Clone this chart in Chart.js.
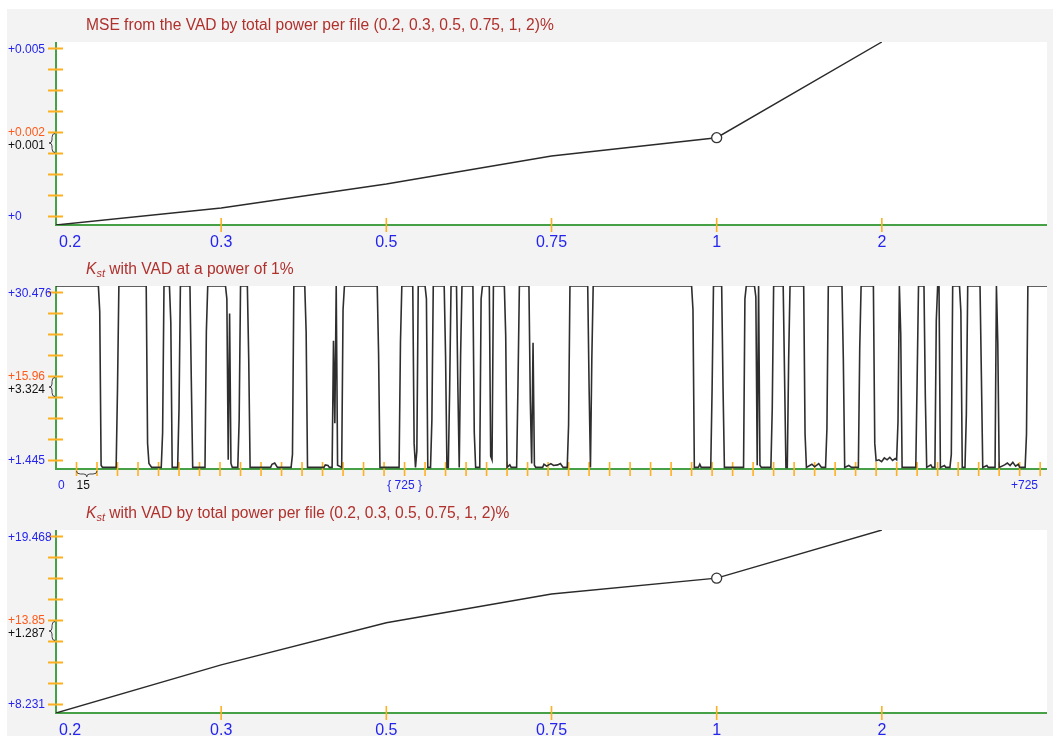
<!DOCTYPE html>
<html>
<head>
<meta charset="utf-8">
<script src="https://cdn.jsdelivr.net/npm/chart.js@4.4.1/dist/chart.umd.min.js"></script>
<style>
  html, body { margin: 0; padding: 0; background: #fff; }
  #bg { position: absolute; left: 7px; top: 9px; width: 1046px; height: 727px; background: #f3f3f3; }
  canvas { position: absolute; left: 0; }
</style>
</head>
<body>
<div id="bg"></div>
<canvas id="mse" width="1053" height="262" style="top:0px"></canvas>
<canvas id="kstRun" width="1053" height="262" style="top:244px"></canvas>
<canvas id="kstPower" width="1053" height="248" style="top:488px"></canvas>
<script>
// power levels per file (%)
const powers = ['0.2', '0.3', '0.5', '0.75', '1', '2'];

// MSE from the VAD for each power level
const mseValues = [0, 0.000464, 0.00112, 0.001885, 0.002385, 0.005];
const mseTickLabels = ['+0.005', '+0.002', '+0.001', '+0'];

// Kst with VAD for each power level
const kstPowerValues = [8.231, 11.19, 13.77, 15.54, 16.51, 19.468];
const kstPowerTickLabels = ['+19.468', '+13.85', '+1.287', '+8.231'];

// Kst with VAD at 1% power, per frame (breakpoints of the trace)
const kstSamples = [
  0, 31, 32, 33, 34, 44, 45, 46, 66, 67, 68, 70,
  77, 78, 79, 83, 84, 85, 89, 90, 91, 98, 99, 100,
  109, 110, 111, 124, 125, 126, 127, 128, 129,
  133, 134, 135, 140, 141, 142, 157, 158, 160, 162,
  172, 173, 174, 182, 183, 184, 196, 197, 199, 200,
  202, 203, 204, 205, 206, 209, 210, 211, 235, 236, 237,
  251, 252, 253, 261, 262, 263, 264, 265,
  270, 271, 272, 274, 275, 276, 284, 285, 286, 287, 288, 289, 293, 294, 295, 296, 297,
  305, 306, 307, 310, 311, 312, 317, 318, 319, 320, 328, 329, 330, 332, 333,
  337, 338, 339, 346, 347, 348, 349, 350, 351,
  356, 357, 359, 362, 364, 367, 369, 371,
  374, 375, 376, 389, 390, 391, 392, 393, 465, 466, 467, 470, 471, 472,
  479, 480, 481, 487, 488, 489,
  503, 504, 505, 511, 512, 513, 514, 515, 516,
  523, 524, 525, 532, 533, 534, 535, 536, 537, 547, 548, 549,
  553, 555, 558, 560, 563, 564, 565, 575, 576, 577, 580, 582,
  587, 588, 589, 598, 599, 600, 602, 604, 606, 608, 610, 612, 614, 615, 616, 617, 618, 619,
  629, 630, 631, 635, 636, 637, 640, 641, 643, 644, 645, 646, 647, 650, 651,
  654, 655, 656, 661, 662, 663, 665, 666, 667, 676, 677, 678, 681, 682,
  687, 688, 689, 690, 694, 696, 698, 700, 702, 704, 705,
  709, 710, 711, 725
];
const kstValues = [
  30.476, 30.476, 26.41, 2.03, 1.7, 1.7, 14.22, 30.476, 30.476, 5.51, 2.32, 1.7,
  1.7, 7.25, 30.476, 30.476, 24.67, 1.7, 1.7, 11.03, 30.476, 30.476, 15.38, 1.7,
  1.7, 23.22, 30.476, 30.476, 28.44, 2.9, 26.12, 2.32, 1.7,
  1.7, 9.28, 30.476, 30.476, 18.86, 1.7, 1.7, 2.2, 2.4, 1.7,
  1.7, 3.77, 30.476, 30.476, 23.22, 1.7, 1.7, 2.1, 2.0, 1.7,
  1.7, 21.77, 8.7, 30.476, 2.03, 1.7, 26.7, 30.476, 30.476, 19.73, 1.7,
  1.7, 21.48, 30.476, 30.476, 5.51, 1.7, 4.35, 30.476,
  30.476, 28.44, 1.7, 1.7, 9.28, 30.476, 30.476, 19.44, 1.7, 1.7, 14.22, 30.476, 30.476, 14.51, 1.7, 19.44, 30.476,
  30.476, 7.25, 1.7, 1.7, 28.44, 30.476, 30.476, 3.48, 2.9, 30.476, 30.476, 22.64, 1.7, 2.1, 1.7,
  1.7, 15.09, 30.476, 30.476, 12.19, 2.32, 21.48, 2.03, 1.7,
  1.7, 2.2, 1.9, 2.3, 2.0, 2.1, 2.3, 1.7,
  1.7, 8.41, 30.476, 30.476, 14.51, 1.7, 18.86, 30.476, 30.476, 26.7, 1.7, 1.7, 2.2, 1.7,
  1.7, 14.22, 30.476, 30.476, 14.22, 1.7,
  1.7, 28.44, 30.476, 30.476, 28.73, 2.03, 30.476, 2.03, 1.7,
  1.7, 11.03, 30.476, 30.476, 16.25, 1.7, 1.7, 18.86, 30.476, 30.476, 6.96, 1.7,
  2.2, 1.8, 2.3, 1.7, 1.7, 7.83, 30.476, 30.476, 18.86, 1.7, 2.0, 1.7,
  1.7, 20.61, 30.476, 30.476, 5.51, 2.75, 2.9, 2.6, 3.2, 2.9, 3.3, 2.8, 3.1, 2.9, 8.99, 30.476, 22.93, 1.7,
  1.7, 15.67, 30.476, 30.476, 12.77, 1.7, 2.1, 1.7, 1.7, 24.96, 30.476, 30.476, 1.7, 2.0, 1.7,
  1.7, 3.77, 30.476, 30.476, 26.41, 1.7, 1.7, 10.15, 30.476, 30.476, 16.25, 1.7, 2.0, 1.7,
  1.7, 30.476, 21.48, 1.7, 2.1, 2.4, 2.0, 2.5, 1.9, 2.2, 1.7,
  1.7, 6.96, 30.476, 30.476
];
const kstRunTickLabels = ['+30.476', '+15.96', '+3.324', '+1.445'];
const frameCount = 725;
const frameStep = 15;

const FONT = '"Liberation Sans", Arial, sans-serif';
const BLUE = '#2424ee';
const ORANGE_LBL = '#ff5a1a';
const TICK = '#ffb020';
const GREEN = '#46a046';
const TITLE = '#b0302c';

function vBrace(ctx, x, y1, y2) {
  const m = (y1 + y2) / 2;
  ctx.beginPath();
  ctx.moveTo(x + 3, y1);
  ctx.quadraticCurveTo(x, y1, x, y1 + 4);
  ctx.lineTo(x, m - 3);
  ctx.quadraticCurveTo(x, m, x - 3, m);
  ctx.quadraticCurveTo(x, m, x, m + 3);
  ctx.lineTo(x, y2 - 4);
  ctx.quadraticCurveTo(x, y2, x + 3, y2);
  ctx.stroke();
}

function hBrace(ctx, x1, x2, y) {
  const m = (x1 + x2) / 2;
  ctx.beginPath();
  ctx.moveTo(x1, y);
  ctx.quadraticCurveTo(x1, y + 3, x1 + 4, y + 3);
  ctx.lineTo(m - 3, y + 3);
  ctx.quadraticCurveTo(m, y + 3, m, y + 6);
  ctx.quadraticCurveTo(m, y + 3, m + 3, y + 3);
  ctx.lineTo(x2 - 4, y + 3);
  ctx.quadraticCurveTo(x2, y + 3, x2, y);
  ctx.stroke();
}

function drawTitle(ctx, o) {
  let x = 86;
  const y = 29.5;
  ctx.fillStyle = TITLE;
  ctx.textBaseline = 'alphabetic';
  ctx.textAlign = 'left';
  if (o.kst) {
    ctx.font = 'italic 15.6px ' + FONT;
    ctx.fillText('K', x, y);
    x += ctx.measureText('K').width;
    ctx.font = 'italic 11px ' + FONT;
    ctx.fillText('st', x, y + 3);
    x += ctx.measureText('st').width;
  }
  ctx.font = '15.6px ' + FONT;
  ctx.fillText(o.title, x, y);
}

const panelPlugin = {
  id: 'panel',
  beforeDraw(chart) {
    const { ctx, chartArea: a } = chart;
    ctx.save();
    ctx.fillStyle = '#fff';
    ctx.fillRect(a.left, a.top, a.right - a.left, a.bottom - a.top);
    ctx.restore();
  },
  beforeDatasetsDraw(chart, args, o) {
    const { ctx, chartArea: a, scales } = chart;
    ctx.save();
    // axes
    ctx.strokeStyle = GREEN;
    ctx.lineWidth = 2;
    ctx.beginPath();
    ctx.moveTo(a.left, a.top);
    ctx.lineTo(a.left, a.bottom);
    ctx.lineTo(a.right, a.bottom);
    ctx.stroke();

    // y ticks (inset from the data range)
    const step = (a.bottom - a.top - 15) / 8;
    const ty = k => a.top + 6.5 + k * step;
    ctx.strokeStyle = TICK;
    ctx.lineWidth = 2;
    for (let k = 0; k <= 8; k++) {
      ctx.beginPath();
      ctx.moveTo(a.left - 8, ty(k));
      ctx.lineTo(a.left + 7, ty(k));
      ctx.stroke();
    }
    // x ticks
    ctx.lineWidth = 1.6;
    const xs = o.xTicks(scales.x);
    xs.forEach(px => {
      ctx.beginPath();
      ctx.moveTo(px, a.bottom - 7);
      ctx.lineTo(px, a.bottom + 7);
      ctx.stroke();
    });

    // y labels
    ctx.font = '12px ' + FONT;
    ctx.textAlign = 'left';
    ctx.textBaseline = 'middle';
    const L = o.yLabels;
    ctx.fillStyle = BLUE;
    ctx.fillText(L[0], 8, Math.max(ty(0), a.top + 8));
    ctx.fillText(L[3], 8, ty(8));
    ctx.fillStyle = ORANGE_LBL;
    ctx.fillText(L[1], 8, ty(4));
    ctx.fillStyle = '#111';
    ctx.fillText(L[2], 8, (ty(4) + ty(5)) / 2 + 3);
    ctx.strokeStyle = '#444';
    ctx.lineWidth = 1;
    vBrace(ctx, a.left - 4, ty(4) + 1, ty(5) - 1);

    o.xLabels(ctx, scales.x, a);
    drawTitle(ctx, o);
    ctx.restore();
  }
};

function baseOptions(padBottom, xMin, xMax, yMin, yMax, extra) {
  return {
    responsive: false,
    animation: false,
    events: [],
    layout: { padding: { left: 56, right: 6, top: 42, bottom: padBottom } },
    scales: {
      x: { type: 'linear', display: false, min: xMin, max: xMax },
      y: { type: 'linear', display: false, min: yMin, max: yMax }
    },
    plugins: { legend: { display: false }, tooltip: { enabled: false }, panel: extra }
  };
}

function powerXLabels(ctx, x, a) {
  ctx.font = '16px ' + FONT;
  ctx.fillStyle = BLUE;
  ctx.textBaseline = 'alphabetic';
  powers.forEach((p, i) => {
    const px = x.getPixelForValue(i);
    if (i === 0) { ctx.textAlign = 'left'; ctx.fillText(p, px + 3, a.bottom + 22); }
    else { ctx.textAlign = 'center'; ctx.fillText(p, px, a.bottom + 22); }
  });
}
function powerXTicks(x) {
  return powers.slice(1).map((p, i) => x.getPixelForValue(i + 1));
}

function powerChart(id, values, yLabels, title, kst, padBottom) {
  return new Chart(document.getElementById(id), {
    type: 'line',
    data: {
      datasets: [{
        data: values.map((v, i) => ({ x: i, y: v })),
        borderColor: '#2a2a2a',
        borderWidth: 1.4,
        tension: 0,
        pointRadius: c => (c.dataIndex === 4 ? 5 : 0),
        pointBackgroundColor: '#fff',
        pointBorderColor: '#333',
        pointBorderWidth: 1.3
      }]
    },
    options: baseOptions(padBottom, 0, powers.length, values[0], values[values.length - 1], {
      title: title, kst: kst, yLabels: yLabels, xTicks: powerXTicks, xLabels: powerXLabels
    }),
    plugins: [panelPlugin]
  });
}

powerChart('mse', mseValues, mseTickLabels,
  'MSE from the VAD by total power per file (0.2, 0.3, 0.5, 0.75, 1, 2)%', false, 37);

new Chart(document.getElementById('kstRun'), {
  type: 'line',
  data: {
    datasets: [{
      data: kstSamples.map((s, i) => ({ x: s, y: kstValues[i] })),
      borderColor: '#2e2e2e',
      borderWidth: 1.6,
      pointRadius: 0,
      tension: 0
    }]
  },
  options: baseOptions(37, 0, frameCount, 1.445, 30.476, {
    title: ' with VAD at a power of 1%',
    kst: true,
    yLabels: kstRunTickLabels,
    xTicks: x => {
      const out = [];
      for (let s = frameStep; s < frameCount; s += frameStep) out.push(x.getPixelForValue(s));
      return out;
    },
    xLabels: (ctx, x, a) => {
      ctx.font = '12px ' + FONT;
      ctx.textBaseline = 'alphabetic';
      ctx.textAlign = 'left';
      ctx.fillStyle = BLUE;
      ctx.fillText('0', x.getPixelForValue(0) + 2, a.bottom + 20);
      ctx.textAlign = 'center';
      ctx.fillText('{ ' + frameCount + ' }', x.getPixelForValue(255), a.bottom + 20);
      ctx.textAlign = 'right';
      ctx.fillText('+' + frameCount, x.getPixelForValue(frameCount) - 9, a.bottom + 20);
      ctx.fillStyle = '#111';
      ctx.textAlign = 'left';
      ctx.fillText(String(frameStep), x.getPixelForValue(frameStep), a.bottom + 20);
      ctx.strokeStyle = '#444';
      ctx.lineWidth = 1;
      hBrace(ctx, x.getPixelForValue(frameStep), x.getPixelForValue(2 * frameStep), a.bottom + 2);
    }
  }),
  plugins: [panelPlugin]
});

powerChart('kstPower', kstPowerValues, kstPowerTickLabels,
  ' with VAD by total power per file (0.2, 0.3, 0.5, 0.75, 1, 2)%', true, 23);
</script>
</body>
</html>
